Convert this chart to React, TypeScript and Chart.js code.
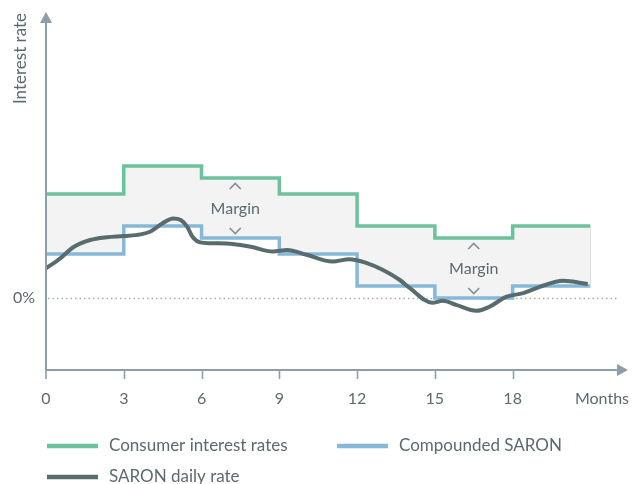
import { useEffect, useRef } from 'react';
import { Chart, registerables } from 'chart.js';

Chart.register(...registerables);

// ---- data ----
const monthTicks = [0, 3, 6, 9, 12, 15, 18];
const xEndLabel = 'Months';
const yZeroLabel = '0%';
const yTitle = 'Interest rate';
const seriesNames = ['Consumer interest rates', 'Compounded SARON', 'SARON daily rate'];

const periodStarts = [0, 3, 6, 9, 12, 15, 18, 21];
const consumerRates = [2.6, 3.3, 3.0, 2.6, 1.8, 1.5, 1.8, 1.8];
const compoundedSaron = [1.1, 1.8, 1.5, 1.1, 0.3, 0, 0.3, 0.3];

const dailyMonths = [0, 0.55, 1.05, 1.7, 2.35, 3, 3.65, 4.05, 4.5, 4.9, 5.2, 5.45, 5.65, 5.95, 6.35, 7.2, 7.9, 8.75, 9.3, 10.05, 11.05, 11.7, 12.35, 13, 13.65, 14.05, 14.9, 15.3, 15.85, 16.6, 17.1, 17.75, 18.4, 19.05, 19.95, 20.9];
const dailyRates = [0.74, 0.99, 1.27, 1.45, 1.52, 1.55, 1.59, 1.67, 1.87, 1.99, 1.95, 1.78, 1.53, 1.39, 1.37, 1.35, 1.28, 1.16, 1.2, 1.08, 0.91, 0.97, 0.88, 0.7, 0.45, 0.24, -0.12, -0.07, -0.18, -0.32, -0.22, 0.03, 0.12, 0.28, 0.43, 0.35];

const marginLabelMonths = [7.3, 16.5];
const marginLabel = 'Margin';

// ---- styles ----
const GREEN = '#6cc29c';
const BLUE = '#86b9d9';
const DARK = '#586b6d';
const FILL = '#f3f3f3';
const AXIS = '#8d9ea8';
const TEXT = '#5b6a70';
const FONT = 'Lato, "Noto Sans", sans-serif';

function stepValueAt(values: number[], m: number) {
  let idx = 0;
  for (let i = 0; i < periodStarts.length; i++) if (periodStarts[i] <= m) idx = i;
  return values[idx];
}

const decorPlugin = {
  id: 'decor',
  beforeDatasetsDraw(chart: any) {
    const { ctx, chartArea, scales } = chart;
    const x = scales.x, y = scales.y;
    ctx.save();
    ctx.strokeStyle = '#a4aeb4';
    ctx.lineWidth = 1.3;
    ctx.setLineDash([1.5, 3]);
    const y0 = Math.round(y.getPixelForValue(0)) + 0.5;
    ctx.beginPath();
    ctx.moveTo(x.getPixelForValue(0) + 2, y0);
    ctx.lineTo(chartArea.right - 9, y0);
    ctx.stroke();
    ctx.restore();
  },
  afterDatasetsDraw(chart: any) {
    const { ctx, scales } = chart;
    const x = scales.x, y = scales.y;
    const last = periodStarts[periodStarts.length - 1];
    const xr = Math.round(x.getPixelForValue(last)) + 0.5;
    ctx.save();
    ctx.strokeStyle = '#dedede';
    ctx.lineWidth = 1;
    ctx.beginPath();
    ctx.moveTo(xr, y.getPixelForValue(consumerRates[consumerRates.length - 1]) + 2);
    ctx.lineTo(xr, y.getPixelForValue(compoundedSaron[compoundedSaron.length - 1]) - 2);
    ctx.stroke();

    ctx.font = `16px ${FONT}`;
    ctx.fillStyle = TEXT;
    ctx.textAlign = 'center';
    ctx.textBaseline = 'middle';
    ctx.strokeStyle = '#7f8f98';
    ctx.lineWidth = 1.6;
    marginLabelMonths.forEach((m) => {
      const top = stepValueAt(consumerRates, m);
      const bot = stepValueAt(compoundedSaron, m);
      const px = x.getPixelForValue(m);
      const pyTop = y.getPixelForValue(top);
      const pyBot = y.getPixelForValue(bot);
      const pyMid = y.getPixelForValue((top + bot) / 2);
      ctx.fillText(marginLabel, px, pyMid + 1);
      const cu = pyTop + 8;
      ctx.beginPath();
      ctx.moveTo(px - 5.5, cu + 3);
      ctx.lineTo(px, cu - 2.5);
      ctx.lineTo(px + 5.5, cu + 3);
      ctx.stroke();
      const cd = pyBot - 7;
      ctx.beginPath();
      ctx.moveTo(px - 5.5, cd - 3);
      ctx.lineTo(px, cd + 2.5);
      ctx.lineTo(px + 5.5, cd - 3);
      ctx.stroke();
    });
    ctx.restore();
  },
  afterDraw(chart: any) {
    const { ctx, chartArea, scales } = chart;
    const x = scales.x, y = scales.y;
    const left = x.getPixelForValue(0);
    const bottom = chartArea.bottom;
    const top = chartArea.top;
    const right = chartArea.right;
    ctx.save();
    ctx.strokeStyle = AXIS;
    ctx.fillStyle = AXIS;
    ctx.lineWidth = 2;
    ctx.beginPath();
    ctx.moveTo(left, bottom);
    ctx.lineTo(left, top + 8);
    ctx.stroke();
    ctx.beginPath();
    ctx.moveTo(left, top);
    ctx.lineTo(left - 6, top + 11);
    ctx.lineTo(left + 6, top + 11);
    ctx.closePath();
    ctx.fill();
    ctx.beginPath();
    ctx.moveTo(left - 1, bottom);
    ctx.lineTo(right - 8, bottom);
    ctx.stroke();
    ctx.beginPath();
    ctx.moveTo(right, bottom);
    ctx.lineTo(right - 11, bottom - 6);
    ctx.lineTo(right - 11, bottom + 6);
    ctx.closePath();
    ctx.fill();
    ctx.lineWidth = 1.6;
    monthTicks.forEach((m) => {
      const px = Math.round(x.getPixelForValue(m)) + (m === 0 ? 0 : 0.5);
      ctx.beginPath();
      ctx.moveTo(px, bottom);
      ctx.lineTo(px, bottom + 9);
      ctx.stroke();
    });
    ctx.fillStyle = TEXT;
    ctx.font = `16px ${FONT}`;
    ctx.textBaseline = 'middle';
    ctx.textAlign = 'center';
    monthTicks.forEach((m) => {
      ctx.fillText(String(m), x.getPixelForValue(m), bottom + 29);
    });
    ctx.textAlign = 'right';
    ctx.fillText(xEndLabel, right + 1, bottom + 29);
    ctx.fillText(yZeroLabel, left - 11, y.getPixelForValue(0));
    ctx.save();
    ctx.font = `17px ${FONT}`;
    ctx.translate(left - 25, top + 1);
    ctx.rotate(-Math.PI / 2);
    ctx.textAlign = 'right';
    ctx.fillText(yTitle, 0, 0);
    ctx.restore();

    const items = [
      { name: seriesNames[0], color: GREEN, sx: 47, tx: 109, ly: 446 },
      { name: seriesNames[1], color: BLUE, sx: 337, tx: 399, ly: 446 },
      { name: seriesNames[2], color: DARK, sx: 47, tx: 109, ly: 477 },
    ];
    ctx.textAlign = 'left';
    ctx.font = `17px ${FONT}`;
    items.forEach((it) => {
      ctx.strokeStyle = it.color;
      ctx.lineWidth = 4.5;
      ctx.beginPath();
      ctx.moveTo(it.sx, it.ly);
      ctx.lineTo(it.sx + 51, it.ly);
      ctx.stroke();
      ctx.fillStyle = TEXT;
      ctx.fillText(it.name, it.tx, it.ly);
    });
    ctx.restore();
  },
};

export default function App() {
  const canvasRef = useRef<HTMLCanvasElement | null>(null);

  useEffect(() => {
    if (!canvasRef.current) return;
    const chart = new Chart(canvasRef.current, {
      type: 'line',
      data: {
        datasets: [
          {
            label: seriesNames[0],
            data: periodStarts.map((m, i) => ({ x: m, y: consumerRates[i] })),
            borderColor: GREEN,
            borderWidth: 3.5,
            stepped: true,
            pointRadius: 0,
            fill: '+1',
            backgroundColor: FILL,
            order: 1,
          },
          {
            label: seriesNames[1],
            data: periodStarts.map((m, i) => ({ x: m, y: compoundedSaron[i] })),
            borderColor: BLUE,
            borderWidth: 3.5,
            stepped: true,
            pointRadius: 0,
            fill: false,
            order: 2,
          },
          {
            label: seriesNames[2],
            data: dailyMonths.map((m, i) => ({ x: m, y: dailyRates[i] })),
            borderColor: DARK,
            borderWidth: 4,
            cubicInterpolationMode: 'monotone',
            pointRadius: 0,
            fill: false,
            order: 0,
          },
        ],
      },
      options: {
        responsive: false,
        animation: false,
        events: [],
        layout: { padding: { left: 46, right: 6, top: 12, bottom: 114 } },
        scales: {
          x: { type: 'linear', display: false, min: 0, max: 22.45 },
          y: { type: 'linear', display: false, min: -1.8, max: 7.15 },
        },
        plugins: {
          legend: { display: false },
          tooltip: { enabled: false },
          filler: { drawTime: 'beforeDatasetsDraw' },
        },
      } as any,
      plugins: [decorPlugin],
    });
    return () => chart.destroy();
  }, []);

  return (
    <div style={{ position: 'absolute', left: 0, top: 0, width: 634, height: 484, background: '#fff' }}>
      <canvas ref={canvasRef} width={634} height={484} style={{ display: 'block' }} />
    </div>
  );
}
